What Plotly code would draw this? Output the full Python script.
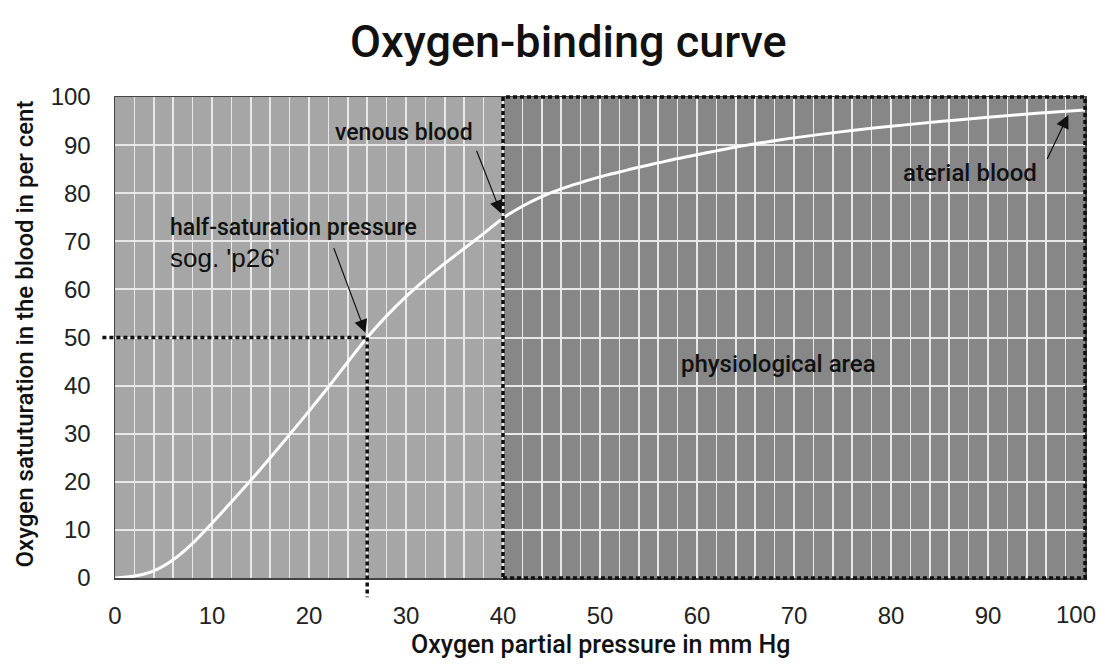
import plotly.graph_objects as go

# ---- data ----
pressure = [0, 2, 4, 6, 8, 10, 12, 14, 16, 18, 20, 22, 24, 26, 28, 30, 32, 34, 36, 38,
            40, 42, 44, 46, 48, 50, 52, 54, 56, 58, 60, 62, 64, 66, 68, 70, 75, 80, 85, 90, 95, 100]
saturation = [0, 0.4, 1.5, 3.8, 7.2, 11.4, 15.8, 20.3, 25.0, 29.8, 34.7, 39.7, 44.9, 50.0,
              54.5, 58.5, 62.1, 65.4, 68.5, 71.6, 74.8, 77.3, 79.3, 80.9, 82.2, 83.4, 84.4,
              85.4, 86.3, 87.2, 88.0, 88.8, 89.6, 90.3, 90.9, 91.5, 92.8, 93.9, 94.9, 95.8,
              96.6, 97.3]
x_ticks = [0, 10, 20, 30, 40, 50, 60, 70, 80, 90, 100]
x_ticktext = ["0", "10", "20", "30", "40", "50", "60", "70", "80", "90", ""]
last_x_label = "100"   # drawn separately, nudged left like in the reference
y_ticks = [0, 10, 20, 30, 40, 50, 60, 70, 80, 90, 100]
y_ticktext = ["0", "10", "20", "30", "40", "50", "60", "70", "80", "90", "100"]
p50 = 26          # half-saturation pressure
half_sat = 50
venous_p, venous_s = 40, 74.8
arterial_p, arterial_s = 98.5, 97.2
phys_start, phys_end = 40, 100

XR = [0, 100]
YR = [0, 100]

def px(v):   # data x -> paper x
    return (v - XR[0]) / (XR[1] - XR[0])

def py(v):   # data y -> paper y
    return (v - YR[0]) / (YR[1] - YR[0])

COND = "Roboto, Inter, sans-serif"
ARIAL = "Liberation Sans, Arial, Helvetica, sans-serif"
TXT = "#111111"
DOT = dict(color="#111", width=3.5, dash="4px,3px")

def cfont(size):
    return dict(family=COND, size=size, color=TXT, weight=500)

fig = go.Figure()
fig.add_trace(go.Scatter(x=pressure, y=saturation, mode="lines",
                         line=dict(color="white", width=3, shape="spline", smoothing=1.0),
                         hoverinfo="skip", showlegend=False))

shapes = [
    dict(type="rect", xref="x", yref="y", x0=phys_start, x1=phys_end, y0=YR[0], y1=YR[1],
         fillcolor="#878787", line=dict(width=0), layer="below"),
    dict(type="rect", xref="paper", yref="paper", x0=px(phys_start), x1=px(phys_end),
         y0=py(YR[0]), y1=py(YR[1]), line=DOT, layer="above"),
    dict(type="line", xref="paper", yref="paper", x0=-0.013, x1=px(p50),
         y0=py(half_sat), y1=py(half_sat), line=DOT, layer="above"),
    dict(type="line", xref="paper", yref="paper", x0=px(p50), x1=px(p50),
         y0=py(half_sat), y1=-0.04, line=DOT, layer="above"),
]

annotations = [
    dict(text="Oxygen-binding curve", xref="paper", yref="paper", x=0.468, y=1.115,
         showarrow=False, font=cfont(45), xanchor="center", yanchor="middle"),
    dict(text="Oxygen partial pressure in mm Hg", xref="paper", yref="paper", x=0.5, y=-0.139,
         showarrow=False, font=cfont(25), xanchor="center", yanchor="middle"),
    dict(text="Oxygen satuturation in the blood in per cent", xref="paper", yref="paper",
         x=-0.093, y=0.508, textangle=-90, showarrow=False,
         font=cfont(24), xanchor="center", yanchor="middle"),
    dict(text=last_x_label, xref="x", yref="paper", x=x_ticks[-1], y=-0.076, xshift=-9,
         showarrow=False, font=dict(family=ARIAL, size=24, color="#222"),
         xanchor="center", yanchor="middle"),
    dict(text="venous blood", x=29.8, y=92.6, showarrow=False,
         font=cfont(23), xanchor="center", yanchor="middle"),
    dict(text="half-saturation pressure", x=5.45, y=72.8, showarrow=False,
         font=cfont(23), xanchor="left", yanchor="middle"),
    dict(text="sog. 'p26'", x=5.45, y=66.6, showarrow=False,
         font=dict(family=ARIAL, size=26, color=TXT), xanchor="left", yanchor="middle"),
    dict(text="aterial blood", x=88.1, y=84.2, showarrow=False,
         font=cfont(24), xanchor="center", yanchor="middle"),
    dict(text="physiological area", x=68.4, y=44.5, showarrow=False,
         font=cfont(24), xanchor="center", yanchor="middle"),
    dict(text="", x=p50, y=half_sat, ax=-34, ay=-91, showarrow=True, arrowhead=2,
         arrowsize=2.2, arrowwidth=1.2, arrowcolor="#111", standoff=5),
    dict(text="", x=venous_p, y=venous_s, ax=-27, ay=-69, showarrow=True, arrowhead=2,
         arrowsize=2.2, arrowwidth=1.2, arrowcolor="#111", standoff=5),
    dict(text="", x=arterial_p, y=arterial_s, ax=-24, ay=50, showarrow=True, arrowhead=2,
         arrowsize=2.2, arrowwidth=1.2, arrowcolor="#111", standoff=5),
]

fig.update_layout(
    width=1101, height=664,
    margin=dict(l=115, r=16, t=97, b=86),
    paper_bgcolor="white", plot_bgcolor="#a6a6a6",
    shapes=shapes, annotations=annotations, showlegend=False,
    xaxis=dict(range=XR, tickvals=x_ticks, ticktext=x_ticktext, automargin=False,
               showgrid=True, gridcolor="#e8e8e8", gridwidth=1.5,
               minor=dict(dtick=2, showgrid=True, gridcolor="#e8e8e8", gridwidth=1.5),
               zeroline=False, showline=True, linecolor="#444", linewidth=1.5, mirror=True,
               ticks="", ticklabelstandoff=16,
               tickfont=dict(family=ARIAL, size=24, color="#222")),
    yaxis=dict(range=YR, tickvals=y_ticks, ticktext=y_ticktext, automargin=False,
               showgrid=True, gridcolor="#e8e8e8", gridwidth=2,
               zeroline=False, showline=True, linecolor="#444", linewidth=1.5, mirror=True,
               ticks="", ticklabelstandoff=18,
               tickfont=dict(family=ARIAL, size=24, color="#222")),
)

fig.write_html("out.html", config={"displayModeBar": False, "staticPlot": True},
               post_script="document.body.style.margin='0';document.body.style.overflow='hidden';")
